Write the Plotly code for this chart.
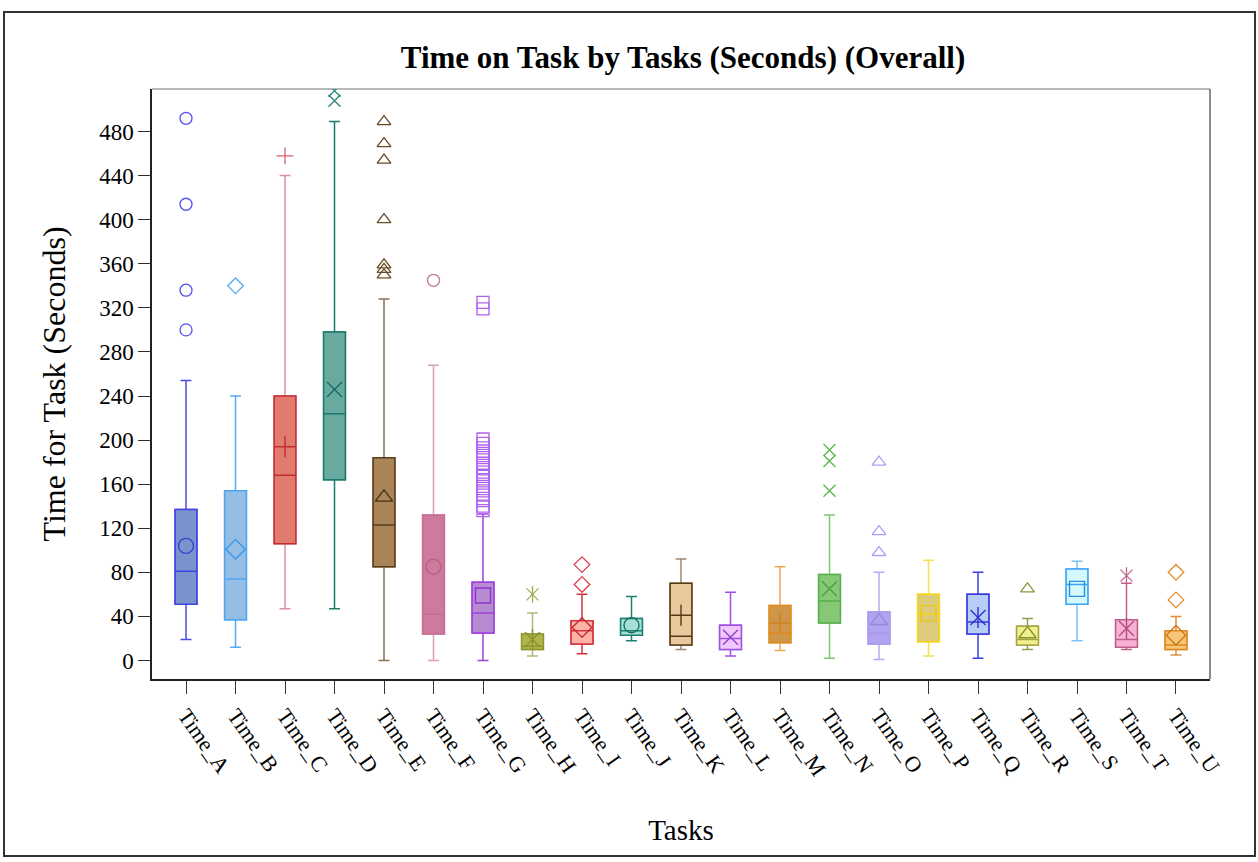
import plotly.graph_objects as go

# ---------------- data ----------------
categories = ["Time_A", "Time_B", "Time_C", "Time_D", "Time_E", "Time_F", "Time_G",
              "Time_H", "Time_I", "Time_J", "Time_K", "Time_L", "Time_M", "Time_N",
              "Time_O", "Time_P", "Time_Q", "Time_R", "Time_S", "Time_T", "Time_U"]
whisker_low = [19, 12, 47, 47, 0, 0, 0, 4, 6, 18, 10, 4, 9, 2, 1, 4, 2, 10, 18, 10, 5]
q1_values = [51, 37, 106, 164, 85, 24, 25, 10, 15, 23, 14, 10, 16, 34, 15, 17, 24, 14, 51, 12, 10]
median_values = [81, 74, 168, 224, 123, 42, 43, 13, 27, 27, 22, 20, 25, 54, 25, 42, 35, 19, 69, 19, 14]
q3_values = [137, 154, 240, 298, 184, 132, 71, 24, 36, 38, 70, 32, 50, 78, 44, 60, 60, 31, 83, 37, 27]
whisker_high = [254, 240, 440, 489, 328, 268, 133, 43, 60, 58, 92, 62, 85, 132, 80, 91, 80, 38, 90, 70, 40]
mean_values = [104, 101, 194, 246, 148, 85, 59, 19, 30, 32, 41, 21, 34, 65, 36, 43, 39, 24, 65, 29, 23]
outlier_values = [
    [492, 414, 336, 300],
    [340],
    [458],
    [508, 517],
    [489, 469, 454, 400, 359, 355, 350],
    [345],
    [136, 140, 145, 150, 154, 158, 163, 167, 171, 175, 179, 184, 188, 193, 197, 201, 319, 325],
    [60],
    [87, 69],
    [],
    [],
    [],
    [],
    [191, 181, 154],
    [180, 117, 98],
    [],
    [],
    [65],
    [],
    [77],
    [80, 55],
]
y_ticks = [0, 40, 80, 120, 160, 200, 240, 280, 320, 360, 400, 440, 480]

# ---------------- styles ----------------
box_line = ["#4242e2", "#4ea6f4", "#c42a36", "#1a7a6c", "#5c3b17", "#c86c93", "#a040e0",
            "#8c9630", "#d2323e", "#1b8072", "#5a3714", "#a050e0", "#e08b20", "#56b04a",
            "#ab98f0", "#f5d818", "#3a3ae0", "#a6a640", "#3ba4f6", "#c06088", "#e08820"]
box_fill = ["#7b93cc", "#96bde3", "#e07b6d", "#68a9a0", "#a98458", "#cc7a9d", "#b68bd0",
            "#b3b54b", "#fdb3a6", "#a6dfd8", "#e8c89c", "#f0c8fb", "#cf9548", "#86c877",
            "#b1a3ef", "#dccb7c", "#b7cdf6", "#f2f08e", "#d4f8fc", "#f8b0d6", "#f5c679"]
whisker_col = ["#4a4ae6", "#55aaf5", "#e0909a", "#1a7a6c", "#8a7050", "#d9a0b8", "#a040e0",
               "#b0b878", "#d2323e", "#1b8072", "#a08870", "#a050e0", "#f0a850", "#7cc870",
               "#b8a8f0", "#f8e050", "#4040e0", "#9a9a50", "#7cc4f8", "#c06088", "#e09040"]
marker_col = ["#5555ee", "#55aaf5", "#d86070", "#2a8a7a", "#6b4a26", "#c87898", "#b060f0",
              "#a0aa50", "#d84050", "#1f8a7e", "#6b4a26", "#a855e0", "#e09030", "#5cb54f",
              "#b0a0f5", "#f5d820", "#4040e0", "#8a9a40", "#3ba4f6", "#c0668a", "#e08a22"]
mean_col = ["#4040d0", "#3a96e8", "#c42a36", "#1a6a5c", "#4c2f10", "#b86085", "#9030d0",
            "#8a9030", "#c82a36", "#1a7066", "#5a3714", "#9040d0", "#d08020", "#4aa040",
            "#9a88e0", "#e8c810", "#3030d0", "#8a9030", "#2a90e0", "#b05078", "#d07818"]
symbols = ["circle", "diamond", "plus", "x", "triangle", "circle", "square",
           "asterisk", "diamond", "circle", "plus", "x", "plus", "x",
           "triangle", "square", "asterisk", "triangle", "square", "asterisk", "diamond"]

symbol_map = {
    "circle": ["circle-open"],
    "diamond": ["diamond-open"],
    "plus": ["cross-thin-open"],
    "x": ["x-thin-open"],
    "triangle": ["triangle-up-open"],
    "square": ["square-open"],
    "asterisk": ["x-thin-open", "line-ns-open"],
}

FONT = "Liberation Serif, Times New Roman, serif"

fig = go.Figure()

for i, cat in enumerate(categories):
    # whiskers (lighter colour)
    fig.add_trace(go.Box(
        x=[cat], q1=[q1_values[i]], median=[median_values[i]], q3=[q3_values[i]],
        lowerfence=[whisker_low[i]], upperfence=[whisker_high[i]],
        fillcolor="rgba(0,0,0,0)", line=dict(color=whisker_col[i], width=1.5),
        whiskerwidth=0.5, width=0.44, boxpoints=False, showlegend=False,
        hoverinfo="skip"))
    # box itself
    fig.add_trace(go.Box(
        x=[cat], q1=[q1_values[i]], median=[median_values[i]], q3=[q3_values[i]],
        lowerfence=[q1_values[i]], upperfence=[q3_values[i]],
        fillcolor=box_fill[i], line=dict(color=box_line[i], width=1.5),
        whiskerwidth=0, width=0.44, boxpoints=False, showlegend=False, name=cat))

for i, cat in enumerate(categories):
    for sym in symbol_map[symbols[i]]:
        # mean marker
        fig.add_trace(go.Scatter(
            x=[cat], y=[mean_values[i]], mode="markers",
            marker=dict(symbol=sym, size=15, color=mean_col[i],
                        line=dict(color=mean_col[i], width=1.4)),
            showlegend=False, cliponaxis=True))
        # outliers
        if outlier_values[i]:
            fig.add_trace(go.Scatter(
                x=[cat] * len(outlier_values[i]), y=outlier_values[i], mode="markers",
                marker=dict(symbol=sym, size=12, color=marker_col[i],
                            line=dict(color=marker_col[i], width=1.3)),
                showlegend=False, cliponaxis=True))

fig.update_layout(
    width=1258, height=862,
    margin=dict(l=152, r=48, t=89, b=183),
    paper_bgcolor="white", plot_bgcolor="white",
    boxmode="overlay",
    font=dict(family=FONT, color="black"),
    title=dict(text="<b>Time on Task by Tasks (Seconds) (Overall)</b>",
               x=(683 / 1258), xanchor="center", y=1 - 57 / 862, yanchor="middle",
               font=dict(family=FONT, size=31, color="black")),
    showlegend=False,
    xaxis=dict(
        type="category", categoryorder="array", categoryarray=categories,
        range=[-0.687, 20.687],
        showgrid=False, zeroline=False,
        showline=True, linecolor="#222", linewidth=1.5,
        ticks="outside", ticklen=13, tickcolor="#333", tickwidth=1,
        tickangle=55, tickfont=dict(family=FONT, size=22, color="black"),
        title=dict(text="Tasks", font=dict(family=FONT, size=29, color="black"),
                   standoff=40),
    ),
    yaxis=dict(
        range=[-16.8, 518.6],
        tickmode="array", tickvals=y_ticks, ticktext=[str(v) for v in y_ticks],
        showgrid=False, zeroline=False,
        showline=True, linecolor="#222", linewidth=1.5,
        ticks="outside", ticklen=12, tickcolor="#333", tickwidth=1,
        tickfont=dict(family=FONT, size=23, color="black"),
        title=dict(text="Time for Task (Seconds)", font=dict(family=FONT, size=32, color="black"),
                   standoff=24),
    ),
    shapes=[
        # top and right plot frame lines (gray)
        dict(type="line", xref="paper", yref="paper", x0=0, x1=1, y0=1, y1=1,
             line=dict(color="#a0a0a0", width=1.5), layer="below"),
        dict(type="line", xref="paper", yref="paper", x0=1, x1=1, y0=0, y1=1,
             line=dict(color="#666666", width=1.5), layer="below"),
        # outer graph frame
        dict(type="rect", xref="paper", yref="paper",
             x0=(4 - 152) / 1058, x1=(1255 - 152) / 1058,
             y0=(679 - 856) / 590, y1=(679 - 12) / 590,
             line=dict(color="#333333", width=2), fillcolor="rgba(0,0,0,0)", layer="below"),
    ],
)

fig.write_html("out.html")
